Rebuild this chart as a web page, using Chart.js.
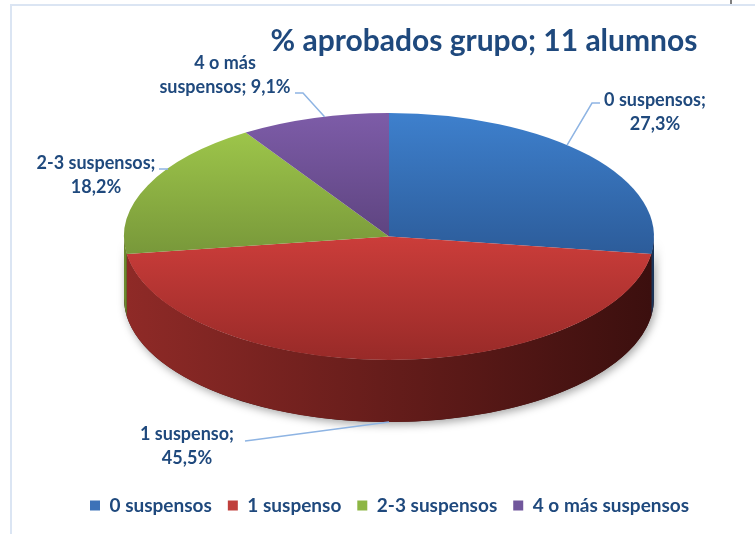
<!DOCTYPE html>
<html>
<head>
<meta charset="utf-8">
<title>% aprobados grupo</title>
<script src="https://cdn.jsdelivr.net/npm/chart.js@4.4.0/dist/chart.umd.min.js"></script>
<style>
  html, body { margin: 0; padding: 0; background: #fff; }
  #wrap { position: relative; width: 755px; height: 534px; overflow: hidden; }
  #frame { position: absolute; left: 10px; top: 4px; width: 800px; height: 600px;
           border-left: 2px solid #dbe5f3; border-top: 2px solid #dbe5f3; }
  #tick { position: absolute; left: 730px; top: 0; width: 2px; height: 4px; background: #7f7f7f; }
  canvas { position: absolute; left: 0; top: 0; }
</style>
</head>
<body>
<div id="wrap">
  <div id="frame"></div>
  <div id="tick"></div>
  <canvas id="pie-chart" width="755" height="534"></canvas>
</div>
<script>
// grupo de 11 alumnos
const chartTitle = '% aprobados grupo; 11 alumnos';
const categories = ['0 suspensos', '1 suspenso', '2-3 suspensos', '4 o más suspensos'];
const percents = [27.3, 45.5, 18.2, 9.1];

// colours: flat (legend), top face light/dark, side light/dark
const flatColors = ['#3d72b8', '#c0403c', '#8db644', '#71579c'];
const topLight = ['#3e80cd', '#cb3d3a', '#9dc54a', '#7d5ca8'];
const topDark = ['#2c5c9a', '#982a28', '#78983a', '#5e4480'];
const sideLight = ['#2a5186', '#8f2a27', '#6c8a2e', '#55407a'];
const sideDark = ['#1b3458', '#3b0f0e', '#46591c', '#35284c'];

// where the pie sits on the page
const PIE = { cx: 389, cy: 236.5, rx: 265, ry: 123.5, depth: 62 };

// data label placement: text centre, first-line words, leader stub, anchor fraction in slice
const labelBoxes = [
  { x: 655, y: 100, words: 2, stub: [600, 103, 592, 103], at: 0.43, side: false },
  { x: 187, y: 434, words: 2, stub: [245, 441, 253, 440], at: 0.5, side: true },
  { x: 96, y: 163, words: 2, stub: [159, 169, 168, 169], at: 0.63, side: false },
  { x: 225, y: 63, words: 3, stub: [295, 93, 303, 93], at: 0.57, side: false }
];

const textColor = '#1f497d';
const fontFamily = 'Lato, "Open Sans", sans-serif';

function pctText(v) {
  return v.toFixed(1).replace('.', ',') + '%';
}

function ellipsePoint(a, dy) {
  return [PIE.cx + PIE.rx * Math.cos(a), PIE.cy + (dy || 0) + PIE.ry * Math.sin(a)];
}

// outline of the front wall between angles s and e
function wallPath(ctx, s, e) {
  ctx.beginPath();
  ctx.ellipse(PIE.cx, PIE.cy, PIE.rx, PIE.ry, 0, s, e, false);
  ctx.ellipse(PIE.cx, PIE.cy + PIE.depth, PIE.rx, PIE.ry, 0, e, s, true);
  ctx.closePath();
}

const pie3d = {
  id: 'pie3d',
  beforeDatasetDraw(chart, args) {
    const ctx = chart.ctx;
    const arcs = args.meta.data;

    // soft shadow under the wall
    ctx.save();
    ctx.shadowColor = 'rgba(0,0,0,0.35)';
    ctx.shadowBlur = 8;
    ctx.shadowOffsetX = 2;
    ctx.shadowOffsetY = 3;
    wallPath(ctx, 0, Math.PI);
    ctx.fillStyle = sideDark[1];
    ctx.fill();
    ctx.restore();

    arcs.forEach((arc, i) => {
      const s = Math.max(arc.startAngle, 0);
      const e = Math.min(arc.endAngle, Math.PI);
      if (e <= s) return;
      const g = ctx.createLinearGradient(PIE.cx - PIE.rx, 0, PIE.cx + PIE.rx, 0);
      g.addColorStop(0, sideLight[i]);
      g.addColorStop(1, sideDark[i]);
      wallPath(ctx, s, e);
      ctx.fillStyle = g;
      ctx.fill();
    });

    // vertical gradient per slice on the top face
    arcs.forEach((arc, i) => {
      let top = arc.y, bot = arc.y;
      for (let k = 0; k <= 48; k++) {
        const a = arc.startAngle + (arc.endAngle - arc.startAngle) * k / 48;
        const y = arc.y + arc.outerRadius * Math.sin(a);
        top = Math.min(top, y);
        bot = Math.max(bot, y);
      }
      const g = ctx.createLinearGradient(0, top, 0, bot);
      g.addColorStop(0, topLight[i]);
      g.addColorStop(1, topDark[i]);
      arc.options.backgroundColor = g;
    });

    // squash the library's circle into the ellipse
    const a0 = arcs[0];
    ctx.save();
    ctx.translate(PIE.cx, PIE.cy);
    ctx.scale(PIE.rx / a0.outerRadius, PIE.ry / a0.outerRadius);
    ctx.translate(-a0.x, -a0.y);
  },
  afterDatasetDraw(chart) {
    chart.ctx.restore();
  },
  afterDraw(chart) {
    const ctx = chart.ctx;
    const arcs = chart.getDatasetMeta(0).data;

    ctx.save();
    ctx.fillStyle = textColor;
    ctx.font = 'bold 30px ' + fontFamily;
    ctx.textAlign = 'center';
    ctx.textBaseline = 'alphabetic';
    ctx.fillText(chartTitle, 484, 51);

    // leader lines
    ctx.strokeStyle = '#8eb4e3';
    ctx.lineWidth = 1.5;
    labelBoxes.forEach((lb, i) => {
      const arc = arcs[i];
      const a = arc.startAngle + (arc.endAngle - arc.startAngle) * lb.at;
      const p = ellipsePoint(a, lb.side ? PIE.depth : 0);
      ctx.beginPath();
      ctx.moveTo(lb.stub[0], lb.stub[1]);
      ctx.lineTo(lb.stub[2], lb.stub[3]);
      ctx.lineTo(p[0], p[1]);
      ctx.stroke();
    });

    // label text
    ctx.font = 'bold 18px ' + fontFamily;
    ctx.textBaseline = 'middle';
    labelBoxes.forEach((lb, i) => {
      const words = (categories[i] + '; ' + pctText(percents[i])).split(' ');
      const l1 = words.slice(0, lb.words).join(' ');
      const l2 = words.slice(lb.words).join(' ');
      ctx.fillText(l1, lb.x, lb.y);
      ctx.fillText(l2, lb.x, lb.y + 24);
    });
    ctx.restore();
  }
};

const ctx = document.getElementById('pie-chart').getContext('2d');
window.pieChart = new Chart(ctx, {
  type: 'pie',
  data: {
    labels: categories,
    datasets: [{
      data: percents,
      backgroundColor: flatColors,
      borderWidth: 0,
      hoverOffset: 0,
      clip: false
    }]
  },
  options: {
    responsive: false,
    animation: false,
    events: [],
    layout: {
      padding: { left: 74, right: 0, top: 60, bottom: 9 }
    },
    plugins: {
      legend: {
        position: 'bottom',
        align: 'start',
        labels: {
          boxWidth: 10,
          boxHeight: 10,
          padding: 16,
          color: textColor,
          font: { family: fontFamily, size: 19, weight: 'bold' }
        }
      },
      tooltip: { enabled: false },
      title: { display: false }
    }
  },
  plugins: [pie3d]
});
</script>
</body>
</html>
